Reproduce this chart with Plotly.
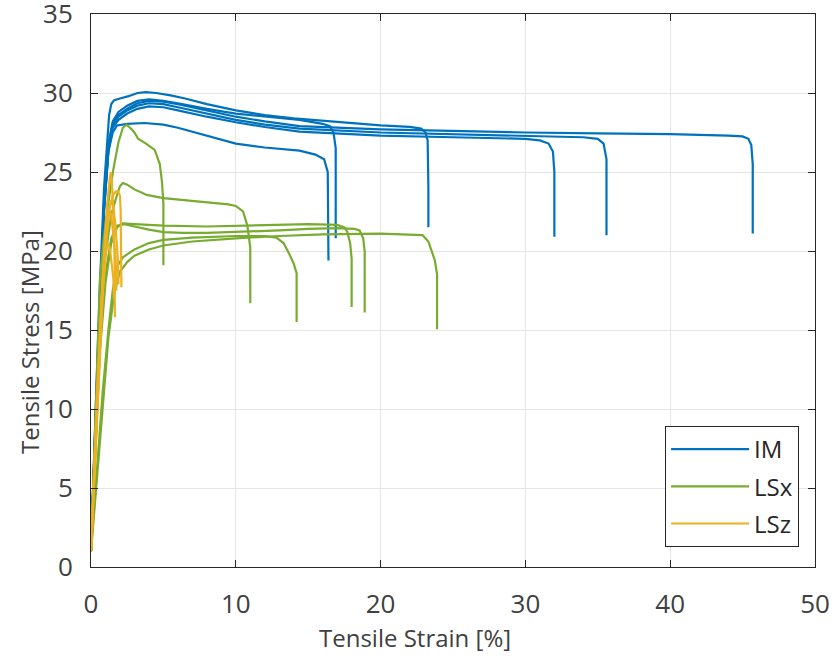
import plotly.graph_objects as go

# ---------------- data (strain [%], stress [MPa]) ----------------
# IM specimens
im1_strain = [0, 0.3, 0.6, 0.9, 1.1, 1.25, 1.4, 1.6, 2.0, 2.6, 3.2, 3.8, 4.5, 5.5, 6.5, 8, 10, 12, 14, 16, 18, 20, 22, 22.8, 23.1, 23.25, 23.3, 23.3]
im1_stress = [1.0, 9.5, 17.5, 24.0, 27.0, 28.6, 29.3, 29.55, 29.65, 29.8, 30.0, 30.05, 30.0, 29.85, 29.65, 29.3, 28.9, 28.6, 28.4, 28.25, 28.1, 27.95, 27.85, 27.75, 27.5, 27.0, 24.0, 21.5]
im2_strain = [0, 0.3, 0.6, 0.9, 1.2, 1.5, 1.9, 2.5, 3.2, 4, 5, 6, 8, 10, 12, 14.4, 16, 16.5, 16.75, 16.9, 16.9]
im2_stress = [1.0, 9.0, 16.8, 23.0, 26.8, 28.2, 28.8, 29.2, 29.5, 29.6, 29.5, 29.35, 29.0, 28.7, 28.5, 28.3, 28.05, 27.9, 27.5, 26.5, 20.8]
im3_strain = [0, 0.3, 0.6, 0.9, 1.2, 1.5, 1.9, 2.5, 3.2, 4, 5, 6, 8, 10, 12, 14.4, 20, 25, 30, 35, 40, 44, 45, 45.4, 45.6, 45.7, 45.7]
im3_stress = [1.0, 8.8, 16.5, 22.8, 26.5, 28.0, 28.6, 29.0, 29.35, 29.5, 29.45, 29.3, 28.9, 28.5, 28.2, 27.9, 27.7, 27.6, 27.5, 27.45, 27.4, 27.3, 27.25, 27.1, 26.7, 25.5, 21.1]
im4_strain = [0, 0.3, 0.6, 0.9, 1.2, 1.5, 1.9, 2.5, 3.2, 4, 5, 6, 8, 10, 12, 14.4, 20, 25, 30, 34, 35, 35.4, 35.6, 35.6]
im4_stress = [1.0, 8.8, 16.4, 22.7, 26.4, 27.9, 28.5, 28.9, 29.2, 29.35, 29.3, 29.1, 28.7, 28.3, 28.0, 27.75, 27.5, 27.4, 27.3, 27.2, 27.1, 26.8, 25.8, 21.0]
im5_strain = [0, 0.3, 0.6, 0.9, 1.2, 1.5, 1.9, 2.5, 3.2, 4, 5, 6, 8, 10, 12, 14.4, 20, 25, 30, 31, 31.6, 31.9, 32.0, 32.0]
im5_stress = [1.0, 8.7, 16.3, 22.6, 26.3, 27.8, 28.3, 28.7, 29.0, 29.15, 29.1, 28.9, 28.5, 28.15, 27.85, 27.55, 27.3, 27.2, 27.1, 27.0, 26.8, 26.3, 25.0, 20.9]
im6_strain = [0, 0.3, 0.6, 0.9, 1.2, 1.5, 1.8, 2.5, 3.7, 5, 6, 8, 10, 12, 14.4, 15.5, 16.1, 16.35, 16.4]
im6_stress = [1.0, 8.5, 16.0, 22.5, 26.3, 27.5, 27.95, 28.05, 28.1, 28.0, 27.8, 27.3, 26.8, 26.55, 26.35, 26.1, 25.8, 25.0, 19.4]

# LSx specimens
lsx1_strain = [0, 0.3, 0.62, 0.85, 1.2, 1.55, 1.9, 2.2, 2.45, 2.7, 3.0, 3.25, 3.8, 4.4, 4.75, 4.9, 5.0, 5.0]
lsx1_stress = [1.0, 9.5, 18.3, 20.6, 23.1, 25.2, 26.9, 27.8, 28.0, 27.8, 27.5, 27.1, 26.8, 26.4, 25.5, 24.4, 23.0, 19.1]
lsx2_strain = [0, 0.3, 0.6, 0.95, 1.2, 1.4, 1.75, 2.0, 2.2, 2.5, 3.0, 3.85, 5.0, 6.5, 8.4, 9.5, 10.0, 10.5, 10.8, 11.0, 11.0]
lsx2_stress = [1.0, 8.5, 15.5, 19.4, 21.0, 22.3, 23.4, 24.1, 24.3, 24.2, 23.9, 23.55, 23.35, 23.2, 23.05, 22.95, 22.85, 22.5, 21.6, 20.2, 16.7]
lsx3_strain = [0, 0.3, 0.6, 1.0, 1.4, 1.8, 2.2, 3.0, 5, 8, 10, 13, 15, 17, 17.5, 17.7, 17.9, 18.0, 18.0]
lsx3_stress = [1.0, 7.5, 13.5, 18.0, 20.5, 21.5, 21.75, 21.7, 21.6, 21.55, 21.6, 21.65, 21.7, 21.65, 21.5, 21.2, 20.5, 19.5, 16.45]
lsx4_strain = [0, 0.3, 0.6, 1.0, 1.4, 1.8, 2.3, 3, 4, 5, 6.3, 8, 10, 13, 15, 17, 18.2, 18.55, 18.8, 18.9, 18.9]
lsx4_stress = [1.0, 7.8, 14.0, 18.5, 20.8, 21.6, 21.7, 21.55, 21.35, 21.2, 21.15, 21.15, 21.2, 21.3, 21.4, 21.45, 21.4, 21.3, 20.8, 20.0, 16.1]
lsx5_strain = [0, 0.4, 0.8, 1.2, 1.5, 1.8, 2.2, 3.0, 4.0, 5, 7, 10, 12, 12.8, 13.3, 13.7, 14.0, 14.2, 14.2]
lsx5_stress = [1.0, 6.0, 11.0, 15.0, 17.5, 19.0, 19.6, 20.1, 20.5, 20.7, 20.85, 20.95, 20.95, 20.85, 20.5, 19.8, 19.2, 18.6, 15.5]
lsx6_strain = [0, 0.4, 0.8, 1.2, 1.6, 2.0, 2.5, 3.0, 4.0, 5, 7, 10, 13, 16, 20, 22, 22.9, 23.3, 23.6, 23.75, 23.9, 23.9]
lsx6_stress = [1.0, 5.5, 10.5, 14.5, 17.3, 18.7, 19.3, 19.7, 20.1, 20.35, 20.6, 20.8, 20.95, 21.05, 21.1, 21.05, 21.0, 20.6, 19.8, 19.4, 18.5, 15.05]

# LSz specimens
lsz1_strain = [0, 0.4, 0.8, 1.1, 1.3, 1.38, 1.45, 1.55, 1.62, 1.65]
lsz1_stress = [1.0, 10.5, 18.5, 22.8, 24.6, 25.0, 24.2, 22.5, 20.0, 15.8]
lsz2_strain = [0, 0.4, 0.8, 1.1, 1.3, 1.5, 1.7, 1.85, 2.0, 2.05, 2.08, 2.1]
lsz2_stress = [1.0, 9.5, 17.0, 21.0, 22.8, 23.5, 23.75, 23.8, 23.5, 22.5, 21.0, 17.7]
lsz3_strain = [0, 0.4, 0.8, 1.1, 1.25, 1.4, 1.55, 1.7, 1.75]
lsz3_stress = [1.0, 10.0, 18.0, 21.8, 22.6, 22.3, 21.0, 19.5, 17.5]
lsz4_strain = [0, 0.4, 0.8, 1.0, 1.2, 1.4, 1.55, 1.7, 1.85, 1.9]
lsz4_stress = [1.0, 10.2, 18.2, 20.8, 22.5, 23.2, 22.8, 21.5, 19.5, 17.9]
lsz5_strain = [0, 0.4, 0.8, 1.0, 1.15, 1.3, 1.45, 1.55, 1.58]
lsz5_stress = [1.0, 9.8, 17.6, 19.8, 20.5, 20.2, 19.0, 18.2, 17.0]

x_ticks = [0, 10, 20, 30, 40, 50]
y_ticks = [0, 5, 10, 15, 20, 25, 30, 35]

groups = [
    ("IM", "#0072BD", [(im1_strain, im1_stress), (im2_strain, im2_stress), (im3_strain, im3_stress),
                       (im4_strain, im4_stress), (im5_strain, im5_stress), (im6_strain, im6_stress)]),
    ("LSx", "#77AC30", [(lsx1_strain, lsx1_stress), (lsx2_strain, lsx2_stress), (lsx3_strain, lsx3_stress),
                        (lsx4_strain, lsx4_stress), (lsx5_strain, lsx5_stress), (lsx6_strain, lsx6_stress)]),
    ("LSz", "#EDB120", [(lsz1_strain, lsz1_stress), (lsz2_strain, lsz2_stress), (lsz3_strain, lsz3_stress),
                        (lsz4_strain, lsz4_stress), (lsz5_strain, lsz5_stress)]),
]

fig = go.Figure()
for name, color, curves in groups:
    for i, (xs, ys) in enumerate(curves):
        fig.add_trace(go.Scatter(
            x=xs, y=ys, mode="lines", name=name, legendgroup=name,
            line=dict(color=color, width=2.2),
            showlegend=(i == 0), hoverinfo="skip",
        ))

FONT = "Open Sans"
TXT = "#404040"
TOP = 14
axis_common = dict(
    showline=True, linecolor="#262626", linewidth=1, mirror="ticks",
    ticks="inside", ticklen=7, tickcolor="#262626", tickwidth=1,
    showgrid=True, gridcolor="#e6e6e6", gridwidth=1, zeroline=False,
    tickfont=dict(family=FONT, size=26, color=TXT),
    automargin=False, ticklabeloverflow="allow",
)
fig.update_xaxes(range=[0, 50], tickvals=x_ticks, ticklabelstandoff=14, **axis_common)
fig.update_yaxes(range=[0, 35.0001], tickvals=y_ticks, ticklabelstandoff=12, **axis_common)

ph = 567 - TOP
fig.update_layout(
    width=834, height=662,
    margin=dict(l=91, r=19, t=TOP, b=95, autoexpand=False),
    plot_bgcolor="white", paper_bgcolor="white",
    font=dict(family=FONT, color=TXT),
    showlegend=True,
    legend=dict(
        x=0.978, y=(567 - 547) / ph, xanchor="right", yanchor="bottom",
        bgcolor="white", bordercolor="#262626", borderwidth=1,
        font=dict(family=FONT, size=24, color="#262626"),
        itemwidth=78, tracegroupgap=3,
    ),
    annotations=[
        dict(text="Tensile Strain [%]", xref="paper", yref="paper",
             x=(415 - 91) / 724, y=-(637 - 567) / ph, xanchor="center", yanchor="middle",
             showarrow=False, font=dict(family=FONT, size=24, color=TXT)),
        dict(text="Tensile Stress [MPa]", xref="paper", yref="paper",
             x=-(91 - 29) / 724, y=(567 - 342) / ph, xanchor="center", yanchor="middle",
             textangle=-90, showarrow=False, font=dict(family=FONT, size=24, color=TXT)),
    ],
)

fig.write_html("out.html")
